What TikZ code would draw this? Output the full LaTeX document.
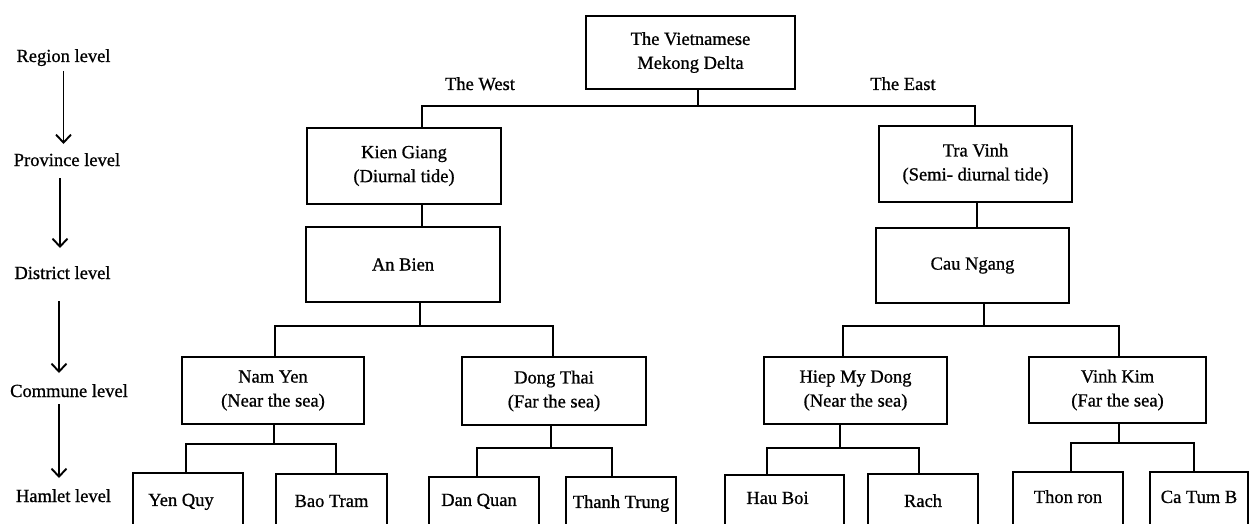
\documentclass[tikz,border=0pt]{standalone}
\usepackage{fontspec}
\setmainfont{Liberation Serif}[FakeBold=0.8]
\usetikzlibrary{arrows.meta,calc}
\newcommand\lblfont{\fontsize{18.5}{24}\selectfont}
\tikzset{
  box/.style={draw, line width=1.9pt, inner sep=0pt, align=center, font=\lblfont},
  conn/.style={line width=1.9pt},
  lvl/.style={inner sep=0pt, anchor=base, font=\lblfont},
  lvarrow/.style={line width=1.9pt, -{Straight Barb[length=8pt,width=15pt]}},
  hamlet/.style={box, anchor=north, text depth=40pt, minimum width=#1},
}
\begin{document}
\begin{tikzpicture}[x=1pt,y=-1pt]
\useasboundingbox (0,0) rectangle (1249,524);
\clip (0,0) rectangle (1249,524);
\fill[white] (0,0) rectangle (1249,524);

% level labels
\node[lvl] (reg)  at (63.5,62)  {Region level};
\node[lvl] (prov) at (67,166)   {Province level};
\node[lvl] (dist) at (62.5,279) {District level};
\node[lvl] (comm) at (69,397)   {Commune level};
\node[lvl] (ham)  at (63.5,502) {Hamlet level};
\draw[lvarrow] ($(reg.base)+(0,9)$) -- ($(reg.base |- prov.base)+(0,-22)$);
\draw[lvarrow] ($(prov.base)+(-7,12)$) -- ($(prov.base |- dist.base)+(-7,-31)$);
\draw[lvarrow] ($(dist.base)+(-3.5,22)$) -- ($(dist.base |- comm.base)+(-3.5,-24)$);
\draw[lvarrow] ($(comm.base)+(-10,7)$) -- ($(comm.base |- ham.base)+(-10,-24)$);

% tree nodes
\node[box, minimum width=209pt, minimum height=73pt] (top) at (690.5,52.5) {The Vietnamese\\Mekong Delta};
\node[lvl] (west) at (480,90) {The West};
\node[lvl] (east) at (903,90) {The East};
\node[box, minimum width=194pt, minimum height=76pt] (kg) at (404,166) {Kien Giang\\(Diurnal tide)};
\node[box, minimum width=194pt, minimum height=75pt] (ab) at (403,264.5) {An Bien};
\node[box, minimum width=193pt, minimum height=76pt] (tv) at (975.5,164) {Tra Vinh\\(Semi- diurnal tide)};
\node[box, minimum width=193pt, minimum height=75pt] (cn) at (972.5,265.5) {Cau Ngang};
\node[box, minimum width=182pt, minimum height=67pt] (ny) at (273,390.5) {Nam Yen\\(Near the sea)};
\node[box, minimum width=184pt, minimum height=68pt] (dt) at (554,391) {Dong Thai\\(Far the sea)};
\node[box, minimum width=183pt, minimum height=67pt] (hm) at (855.5,390.5) {Hiep My Dong\\(Near the sea)};
\node[box, minimum width=177pt, minimum height=66pt] (vk) at (1117.5,390) {Vinh Kim\\(Far the sea)};

\node[hamlet=110pt, text height=33pt] (yq) at (188,472) {Yen Quy\hspace*{14pt}};
\node[hamlet=111pt, text height=33pt] (bt) at (331.5,473) {Bao Tram};
\node[hamlet=110pt, text height=29pt] (dq) at (484,476) {Dan Quan\hspace*{10pt}};
\node[hamlet=110pt, text height=31pt] (tt) at (621,476) {Thanh Trung};
\node[hamlet=119pt, text height=29pt] (hb) at (784.5,474) {Hau Boi\hspace*{14pt}};
\node[hamlet=110pt, text height=33pt] (ra) at (923,473) {Rach};
\node[hamlet=110pt, text height=31pt] (tr) at (1068,471) {Thon ron};
\node[hamlet=98pt, text height=31pt] (ct) at (1199,471) {Ca Tum B};

% bus coordinates
\coordinate (tb) at (698,106);
\coordinate (wb) at (422,106);
\coordinate (eb) at (975,106);
\coordinate (tx) at (977,0);
\coordinate (ax) at (420,326);  \coordinate (ax1) at (275,326);  \coordinate (ax2) at (553,326);
\coordinate (cx) at (984,326);  \coordinate (cx1) at (843,326);  \coordinate (cx2) at (1119,326);
\coordinate (nx) at (274,444);  \coordinate (nx1) at (186,444);  \coordinate (nx2) at (336,444);
\coordinate (dx) at (551,448);  \coordinate (dx1) at (477,448);  \coordinate (dx2) at (612,448);
\coordinate (hx) at (840,448);  \coordinate (hx1) at (767,448);  \coordinate (hx2) at (919,448);
\coordinate (vx) at (1119,443); \coordinate (vx1) at (1071,443); \coordinate (vx2) at (1194,443);

% connectors
\draw[conn] (top.south -| tb) -- (tb);
\draw[conn] (kg.north -| wb) |- (eb) -- (tv.north -| eb);
\draw[conn] (kg.south -| wb) -- (ab.north -| wb);
\draw[conn] (tv.south -| tx) -- (cn.north -| tx);

\draw[conn] (ab.south -| ax) -- (ax);
\draw[conn] (ny.north -| ax1) |- (ax2) -- (dt.north -| ax2);
\draw[conn] (cn.south -| cx) -- (cx);
\draw[conn] (hm.north -| cx1) |- (cx2) -- (vk.north -| cx2);

\draw[conn] (ny.south -| nx) -- (nx);
\draw[conn] (yq.north -| nx1) |- (nx2) -- (bt.north -| nx2);
\draw[conn] (dt.south -| dx) -- (dx);
\draw[conn] (dq.north -| dx1) |- (dx2) -- (tt.north -| dx2);
\draw[conn] (hm.south -| hx) -- (hx);
\draw[conn] (hb.north -| hx1) |- (hx2) -- (ra.north -| hx2);
\draw[conn] (vk.south -| vx) -- (vx);
\draw[conn] (tr.north -| vx1) |- (vx2) -- (ct.north -| vx2);
\end{tikzpicture}
\end{document}
